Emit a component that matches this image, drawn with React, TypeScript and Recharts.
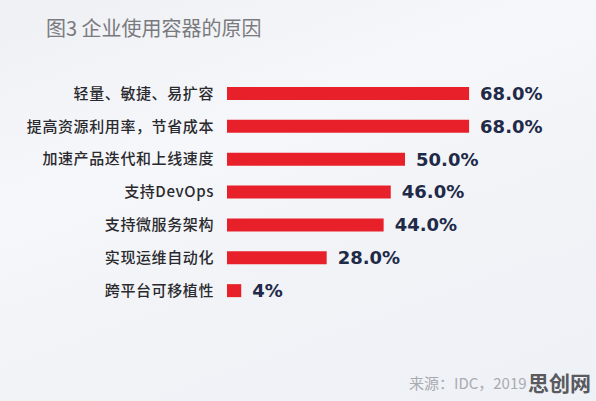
import React from 'react';
import { BarChart, Bar, XAxis, YAxis, LabelList } from 'recharts';

const categories = [
  '轻量、敏捷、易扩容',
  '提高资源利用率，节省成本',
  '加速产品迭代和上线速度',
  '支持DevOps',
  '支持微服务架构',
  '实现运维自动化',
  '跨平台可移植性',
];
const values = [68, 68, 50, 46, 44, 28, 4];
const valueLabels = ['68.0%', '68.0%', '50.0%', '46.0%', '44.0%', '28.0%', '4%'];

const data = categories.map((name, i) => ({ name, value: values[i], label: valueLabels[i] }));

export default function App() {
  return (
    <div
      style={{
        position: 'absolute',
        left: 0,
        top: 0,
        width: 596,
        height: 401,
        overflow: 'hidden',
        background: 'linear-gradient(160deg, #eef0f4 0%, #f6f7fa 35%, #f1f3f7 60%, #eef1f6 100%)',
        fontFamily: '"Noto Sans CJK SC", "Noto Sans", sans-serif',
      }}
    >
      <div
        style={{
          position: 'absolute',
          left: 46,
          top: 15,
          fontSize: 20,
          lineHeight: '26px',
          color: '#7a7a7e',
          whiteSpace: 'nowrap',
        }}
      >
        图3 企业使用容器的原因
      </div>
      <BarChart
        width={596}
        height={401}
        layout="vertical"
        data={data}
        margin={{ top: 77, right: 13, bottom: 94, left: 0 }}
      >
        <XAxis type="number" domain={[0, 100]} hide />
        <YAxis
          type="category"
          dataKey="name"
          width={227}
          axisLine={false}
          tickLine={false}
          tickSize={0}
          tickMargin={13}
          interval={0}
          tick={{ fill: '#2a2a2e', fontSize: 15, fontWeight: 500, letterSpacing: 0.6 }}
        />
        <Bar dataKey="value" fill="#e8202a" barSize={13} isAnimationActive={false}>
          <LabelList
            dataKey="label"
            position="right"
            offset={11}
            style={{ fill: '#1e2a48', fontSize: 18, fontWeight: 700, fontFamily: '"DejaVu Sans", sans-serif' }}
          />
        </Bar>
      </BarChart>
      <div
        style={{
          position: 'absolute',
          left: 409,
          top: 373,
          fontSize: 15,
          lineHeight: '20px',
          color: '#a9abb0',
          whiteSpace: 'nowrap',
        }}
      >
        来源：IDC，2019
      </div>
      <div
        style={{
          position: 'absolute',
          left: 528,
          top: 370,
          fontSize: 21,
          lineHeight: '24px',
          fontWeight: 700,
          color: '#5a5a5e',
          whiteSpace: 'nowrap',
        }}
      >
        思创网
      </div>
    </div>
  );
}
